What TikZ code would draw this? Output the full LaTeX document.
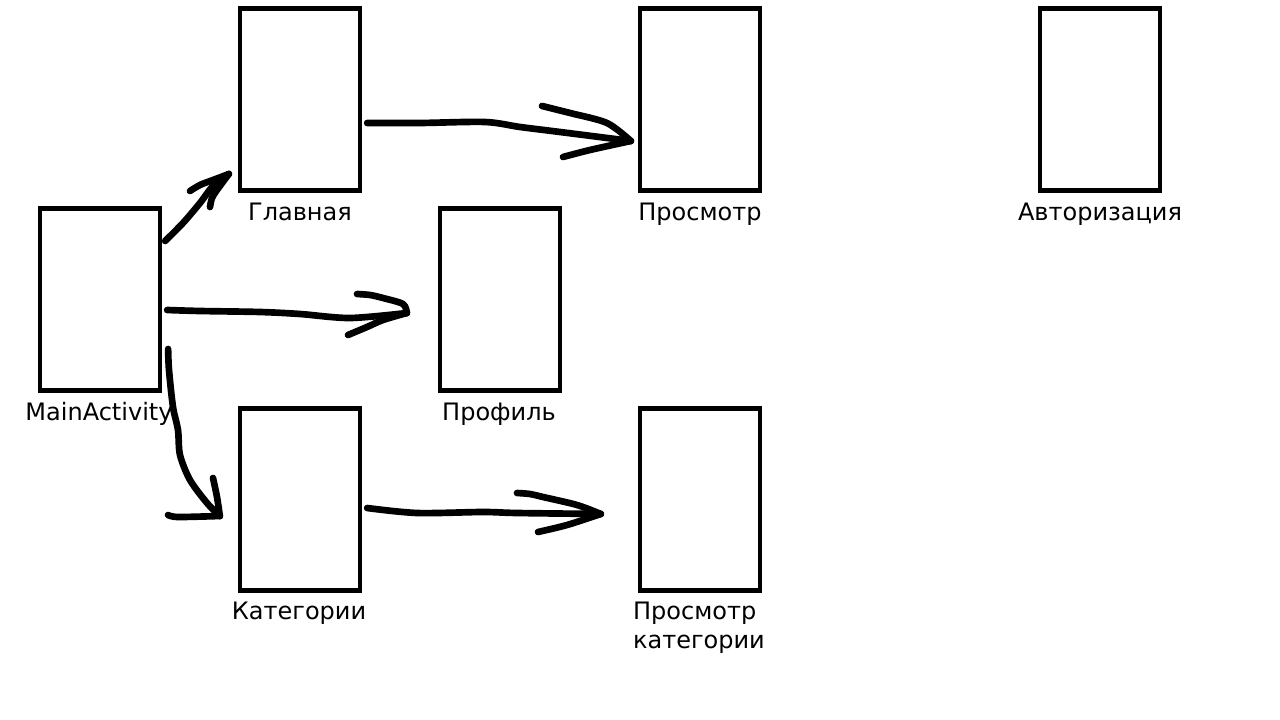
\documentclass[tikz,border=0pt]{standalone}
\usepackage{fontspec}
\setmainfont{DejaVu Sans}
\usetikzlibrary{calc}
\begin{document}
\begin{tikzpicture}[x=0.75pt,y=-0.75pt,
  screen/.style={draw=black, line width=3.2pt, minimum width=90pt, minimum height=136.5pt, inner sep=0pt, fill=white},
  lbl/.style={anchor=base, inner sep=0pt, font=\fontsize{18}{21}\selectfont},
  lblw/.style={anchor=base west, inner sep=0pt, font=\fontsize{18}{21}\selectfont},
  stroke/.style={line width=5pt, line cap=round, line join=round},
  hand/.style={smooth, tension=0.5}]
\useasboundingbox (0,0) rectangle (1280,720);
\fill[white] (0,0) rectangle (1280,720);
% screens
\node[screen] (main) at (100,299.5) {};
\node[screen] (glav) at (300,99.5) {};
\node[screen] (prosm) at (700,99.5) {};
\node[screen] (avt) at (1100,99.5) {};
\node[screen] (prof) at (500,299.5) {};
\node[screen] (kat) at (300,499.5) {};
\node[screen] (pkat) at (700,499.5) {};
% labels
\node[lbl] (lmain) at ($(main.south)+(-1,28)$) {MainActivity};
\node[lbl] (lglav) at ($(glav.south)+(0,27.5)$) {Главная};
\node[lbl] (lprosm) at ($(prosm.south)+(0,27.5)$) {Просмотр};
\node[lbl] (lavt) at ($(avt.south)+(0,27.5)$) {Авторизация};
\node[lbl] (lprof) at ($(prof.south)+(-1,27.5)$) {Профиль};
\node[lbl] (lkat) at ($(kat.south)+(-1,27)$) {Категории};
\node[lblw] (lpkat1) at ($(pkat.south west)+(-5,26.5)$) {Просмотр};
\node[lblw] (lpkat2) at ($(pkat.south west)+(-5,56)$) {категории};
% arrow end points
\coordinate (sGl) at ($(main.east)+(3,-58.5)$);
\coordinate (tGl) at ($(glav.west)+(-9,74.5)$);
\coordinate (sPr) at ($(glav.east)+(5,23.5)$);
\coordinate (tPr) at ($(prosm.west)+(-7,41.5)$);
\coordinate (sPf) at ($(main.east)+(5,10.5)$);
\coordinate (tPf) at ($(prof.west)+(-31,13.5)$);
\coordinate (sKa) at ($(main.east)+(6,49.5)$);
\coordinate (tKa) at ($(kat.west)+(-18,16.5)$);
\coordinate (sPK) at ($(kat.east)+(5,8.5)$);
\coordinate (tPK) at ($(pkat.west)+(-37,14.5)$);
% MainActivity -> Главная
\draw[stroke] plot[hand] coordinates {(sGl) (183,223) (200,203) (213,186) (tGl)};
\draw[stroke] plot[hand] coordinates {(190,191) (200,185) (213,180) (tGl)};
\draw[stroke] plot[hand] coordinates {(210,207) (212,198) (217,190) (tGl)};
% Главная -> Просмотр
\draw[stroke] plot[hand] coordinates {(sPr) (420,123) (485,122) (520,127) (560,132) (tPr)};
\draw[stroke] plot[hand] coordinates {(542,106) (570,113) (607,123) (tPr)};
\draw[stroke] plot[hand] coordinates {(563,157) (590,150) (tPr)};
% MainActivity -> Профиль
\draw[stroke] plot[hand] coordinates {(sPf) (200,311) (260,312) (300,314) (350,318) (tPf)};
\draw[stroke] plot[hand] coordinates {(357,294) (370,295) (383,298) (403,304) (tPf)};
\draw[stroke] plot[hand] coordinates {(348,335) (367,327) (383,320) (tPf)};
% MainActivity -> Категории
\draw[stroke] plot[hand] coordinates {(sKa) (169,370) (173,407) (178,430) (180,455) (190,480) (207,503) (tKa)};
\draw[stroke] plot[hand] coordinates {(213,478) (217,497) (tKa)};
\draw[stroke] plot[hand] coordinates {(168,515) (178,517) (tKa)};
% Категории -> Просмотр категории
\draw[stroke] plot[hand] coordinates {(sPK) (417,513) (483,512) (517,513) (tPK)};
\draw[stroke] plot[hand] coordinates {(517,493) (530,494) (543,497) (577,505) (tPK)};
\draw[stroke] plot[hand] coordinates {(538,532) (567,525) (tPK)};
\end{tikzpicture}
\end{document}
